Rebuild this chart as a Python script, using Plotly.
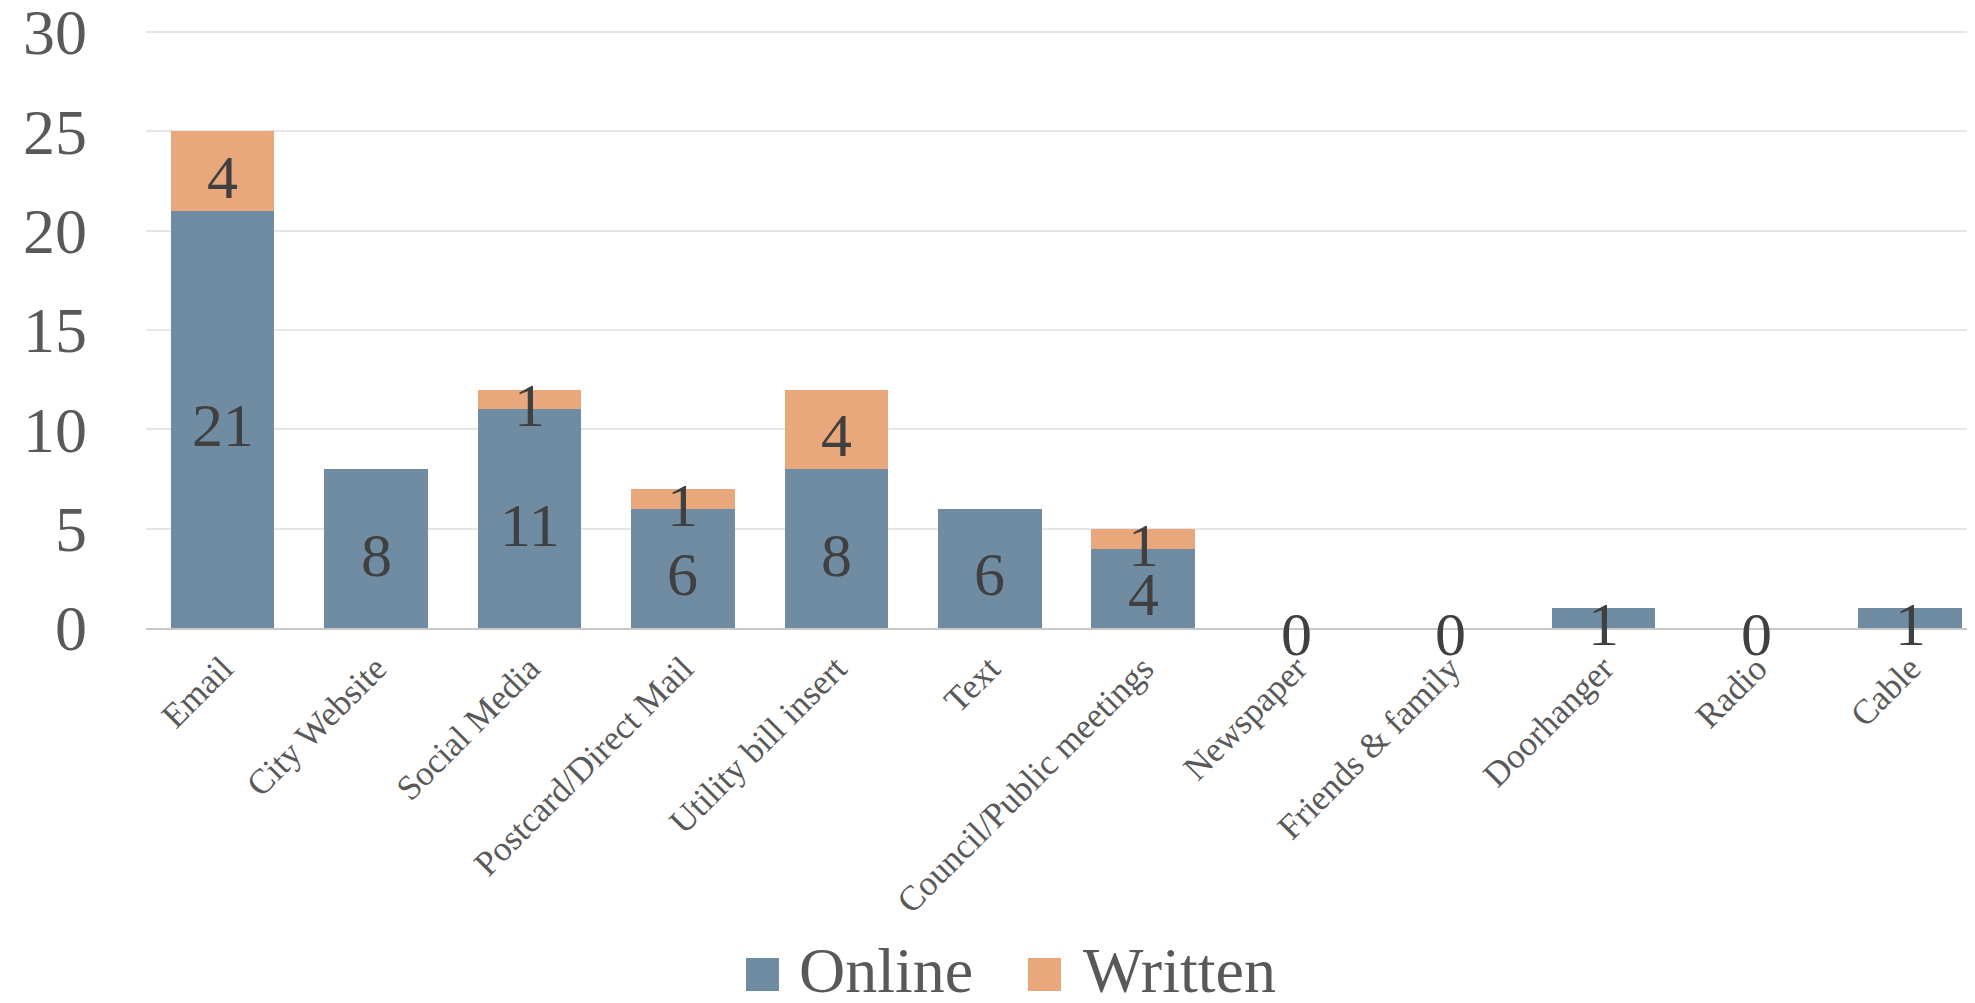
import plotly.graph_objects as go

categories = ["Email", "City Website", "Social Media", "Postcard/Direct Mail",
              "Utility bill insert", "Text", "Council/Public meetings", "Newspaper",
              "Friends & family", "Doorhanger", "Radio", "Cable"]
online = [21, 8, 11, 6, 8, 6, 4, 0, 0, 1, 0, 1]
written = [4, 0, 1, 1, 4, 0, 1, 0, 0, 0, 0, 0]
y_ticks = [0, 5, 10, 15, 20, 25, 30]

C_ONLINE = "#708CA3"
C_WRITTEN = "#E8A87C"
FONT = "Liberation Serif"

# page body has an 8px default margin; size the figure so it fits the window
OFF = 8
W, H = 1975 - 2 * OFF, 1003 - 2 * OFF
ML, MR, MT, MB = 138, 0, 4, 367

fig = go.Figure()
fig.add_trace(go.Bar(x=categories, y=online, name="Online", marker_color=C_ONLINE,
                     marker_line_width=0, showlegend=False))
fig.add_trace(go.Bar(x=categories, y=written, name="Written", marker_color=C_WRITTEN,
                     marker_line_width=0, showlegend=False))

# data labels centred in each stacked segment
label_font = dict(family=FONT, size=62, color="#404040")
for c, o, w in zip(categories, online, written):
    fig.add_annotation(x=c, y=o / 2, text=str(o), showarrow=False, yshift=-6,
                       font=label_font, xanchor="center", yanchor="middle")
    if w > 0:
        fig.add_annotation(x=c, y=o + w / 2, text=str(w), showarrow=False, yshift=-6,
                           font=label_font, xanchor="center", yanchor="middle")

pw = W - ML - MR
ph = H - MT - MB


def px_x(p):  # page pixel -> paper x
    return (p - OFF - ML) / pw


def px_y(p):  # page pixel -> paper y
    return (H - MB - (p - OFF)) / ph


# custom legend (large square swatches)
legend_items = [("Online", C_ONLINE, 746, 797), ("Written", C_WRITTEN, 1028, 1081)]
for name, col, sx, tx in legend_items:
    fig.add_shape(type="rect", xref="paper", yref="paper",
                  x0=px_x(sx), x1=px_x(sx + 33), y0=px_y(991), y1=px_y(958),
                  fillcolor=col, line_width=0)
    fig.add_annotation(xref="paper", yref="paper", x=px_x(tx), y=px_y(970),
                       xanchor="left", yanchor="middle", text=name, showarrow=False,
                       font=dict(family=FONT, size=64, color="#595959"))

fig.update_layout(
    width=W, height=H,
    margin=dict(l=ML, r=MR, t=MT, b=MB, autoexpand=False),
    barmode="stack", bargap=0.325,
    plot_bgcolor="white", paper_bgcolor="white",
    showlegend=False,
    font=dict(family=FONT, color="#595959"),
)
fig.update_xaxes(type="category", range=[-0.5, 11.37], automargin=False,
                 tickangle=-45, tickfont=dict(family=FONT, size=35, color="#595959"),
                 showline=True, linecolor="#C8C8C8", linewidth=2, showgrid=False,
                 ticks="", ticklabelstandoff=4)
fig.update_yaxes(range=[0, 31], tickvals=y_ticks, showgrid=True, gridcolor="#E6E6E6",
                 gridwidth=2, zeroline=False, showline=False, automargin=False,
                 tickfont=dict(family=FONT, size=64, color="#595959"),
                 ticklabelstandoff=58, ticklabeloverflow="allow")

fig.write_html("out.html")
